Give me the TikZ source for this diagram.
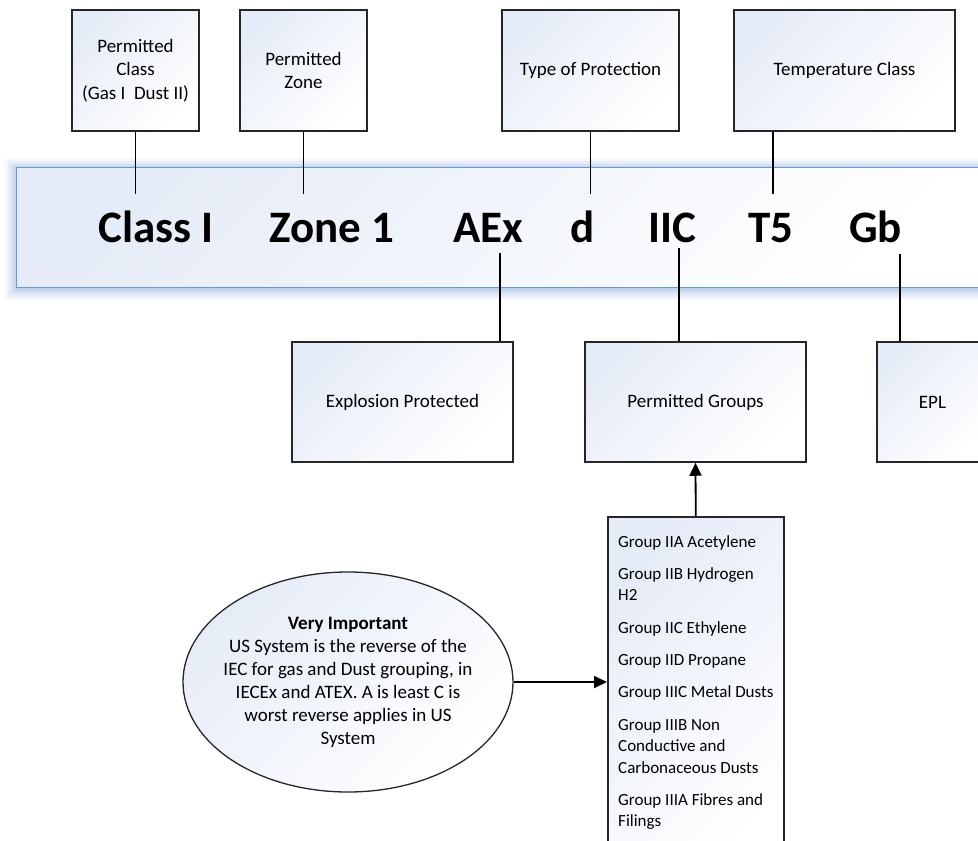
\documentclass[tikz,border=0pt]{standalone}
\usepackage{fontspec}
\setmainfont{Carlito}
\usetikzlibrary{arrows.meta,shapes.geometric}
\definecolor{boxline}{HTML}{262626}
\definecolor{gradblue}{HTML}{E6ECF7}
\definecolor{bandline}{HTML}{6E98CF}
\definecolor{glowblue}{HTML}{8FAEDD}
\begin{document}
\begin{tikzpicture}[x=1pt,y=-1pt,
  infobox/.style={draw=boxline, line width=1.5pt, top color=gradblue, bottom color=white, shading angle=45, inner sep=2pt, align=center, font=\fontsize{19}{23.5}\selectfont},
  code/.style={anchor=base west, inner sep=0pt, font=\fontsize{45}{54}\selectfont\bfseries},
  link/.style={draw=black, line width=1.8pt},
  arr/.style={link, -{Triangle[length=13pt,width=12pt]}},
]
\useasboundingbox (0,0) rectangle (978,841);
% glow round the band
\foreach \w/\o in {22/0.10,16/0.14,10/0.19,5/0.26}
  \draw[glowblue, line width=\w pt, opacity=\o] (16,168.5) rectangle (1010,288.5);
\node[draw=bandline, line width=1.2pt, top color=gradblue, bottom color=white, shading angle=45,
      minimum width=994pt, minimum height=120pt, inner sep=0pt, anchor=north west] (band) at (16,167) {};

% top boxes
\node[infobox, minimum width=127pt, minimum height=121pt] (pclass) at (135.5,70.5) {Permitted\\Class\\(Gas I\ \ Dust II)};
\node[infobox, minimum width=127pt, minimum height=121pt] (pzone) at (303.5,70.5) {Permitted\\Zone};
\node[infobox, minimum width=177pt, minimum height=121pt] (ptype) at (590.5,70.5) {Type of Protection};
\node[infobox, minimum width=221pt, minimum height=121pt] (ptemp) at (844.5,70.5) {Temperature Class};

% code letters
\node[code] (cls) at (98,242) {Class I};
\node[code] (zone) at (269,242) {Zone 1};
\node[code] (aex) at (453,242) {AEx};
\node[code] (dd) at (570,242) {d};
\node[code] (iic) at (648,242) {IIC};
\node[code] (tfive) at (748,242) {T5};
\node[code] (gb) at (849,242) {Gb};

% bottom boxes
\node[infobox, minimum width=221pt, minimum height=120pt] (expl) at (402.5,402) {Explosion Protected};
\node[infobox, minimum width=221pt, minimum height=120pt] (pgroups) at (695.5,402) {Permitted Groups};
\node[infobox, minimum width=111pt, minimum height=120pt] (epl) at (932.5,402) {EPL};

% connector ends at the letters
\coordinate (clsT) at (135.5,194);
\coordinate (zoneT) at (303.5,194);
\coordinate (ddT) at (590.5,194);
\coordinate (tfiveT) at (773,194);
\coordinate (aexB) at (500,253);
\coordinate (iicB) at (679,248);
\coordinate (gbB) at (900,254);

\draw[link] (pclass.south) -- (clsT);
\draw[link] (pzone.south) -- (zoneT);
\draw[link] (ptype.south) -- (ddT);
\draw[link] (ptemp.south -| tfiveT) -- (tfiveT);
\draw[link] (aexB) -- (aexB |- expl.north);
\draw[link] (iicB) -- (iicB |- pgroups.north);
\draw[link] (gbB) -- (gbB |- epl.north);

% list of groups
\node[draw=boxline, line width=1.5pt, top color=gradblue, bottom color=white, shading angle=45,
      minimum width=176pt, minimum height=360pt, inner sep=0pt, anchor=north west] (list) at (607,516) {};
\node[anchor=north west, inner sep=0pt, align=left, font=\fontsize{17}{21.5}\selectfont] (listtxt) at (618,535)
  {Group IIA Acetylene\\[10.8pt]
   Group IIB Hydrogen\\H2\\[10.8pt]
   Group IIC Ethylene\\[10.8pt]
   Group IID Propane\\[10.8pt]
   Group IIIC Metal Dusts\\[10.8pt]
   Group IIIB Non\\Conductive and\\Carbonaceous Dusts\\[10.8pt]
   Group IIIA Fibres and\\Filings};
\draw[arr] (list.north) -- (pgroups.south);

% note ellipse
\node[ellipse, draw=boxline, line width=1.3pt, top color=gradblue, bottom color=white, shading angle=45,
      minimum width=330pt, minimum height=220pt, inner xsep=-8pt, inner ysep=0pt, align=center,
      font=\fontsize{19}{23}\selectfont] (note) at (348,682)
  {\textbf{Very Important}\\US System is the reverse of the\\IEC for gas and Dust grouping, in\\IECEx and ATEX. A is least C is\\worst reverse applies in US\\System};
\draw[arr] (note.east) -- (note.east -| list.west);
\end{tikzpicture}
\end{document}
